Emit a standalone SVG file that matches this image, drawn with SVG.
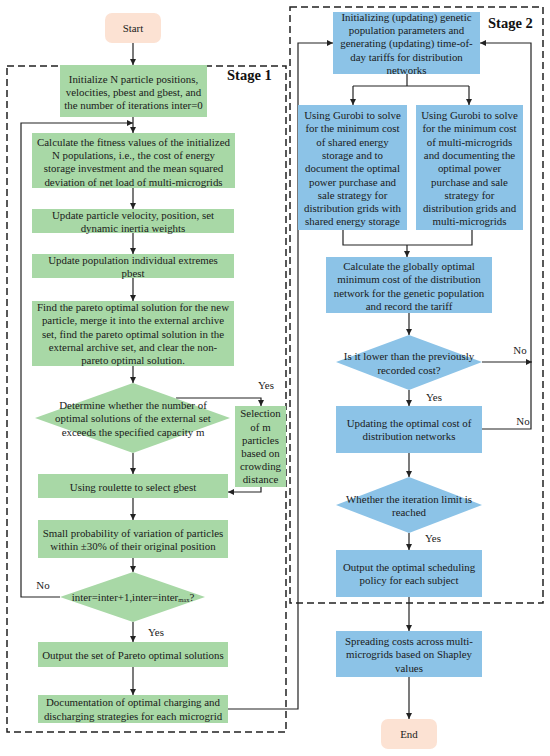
<svg xmlns="http://www.w3.org/2000/svg" width="550" height="756" viewBox="0 0 550 756">
<style>
.t{font-family:"Liberation Serif","Times New Roman",serif;font-size:10.9px;fill:#1a1a1a;text-anchor:middle}
.s{font-family:"Liberation Serif","Times New Roman",serif;font-size:14.5px;font-weight:bold;fill:#111}
.g{fill:#a8d8a6}
.b{fill:#8cc3e7}
.p{fill:#fce2d3}
.stage{fill:none;stroke:#222;stroke-width:1.5;stroke-dasharray:7,4}
.c{fill:none;stroke:#222;stroke-width:1.2}
.a{fill:none;stroke:#222;stroke-width:1.2;marker-end:url(#ah)}
</style>
<defs>
<marker id="ah" markerUnits="userSpaceOnUse" markerWidth="7" markerHeight="7" refX="6" refY="3.5" orient="auto">
<path d="M0,0.5 L6,3.5 L0,6.5 Z" fill="#222"/>
</marker>
</defs>

<g id="stage1-frame">
<rect class="stage" x="7" y="66" width="279" height="666"/>
<text class="s" x="227" y="80">Stage 1</text>
</g>
<g id="stage2-frame">
<rect class="stage" x="290" y="7" width="253" height="596"/>
<text class="s" x="488" y="28">Stage 2</text>
</g>

<g id="connectors">
<path class="a" d="M133,43 V65"/>
<path class="a" d="M133,117 V133"/>
<path class="a" d="M60,597 H21 V123 H133"/>
<path class="a" d="M133,188 V209"/>
<path class="a" d="M133,233 V254"/>
<path class="a" d="M133,278 V301"/>
<path class="a" d="M133,366 V383"/>
<path class="a" d="M176,398 H261 V406"/>
<path class="a" d="M261,487 V492 H228"/>
<path class="a" d="M133,453 V474"/>
<path class="a" d="M133,498 V520"/>
<path class="a" d="M133,558 V572"/>
<path class="a" d="M133,622 V642"/>
<path class="a" d="M133,667 V695"/>
<path class="a" d="M228,709 H298 V43 H333"/>
<path class="c" d="M407,74 V86"/>
<path class="c" d="M353,86 H469"/>
<path class="a" d="M353,86 V105"/>
<path class="a" d="M469,86 V105"/>
<path class="c" d="M343,230 V245 H472 V230"/>
<path class="a" d="M407,245 V257"/>
<path class="a" d="M409,313 V335"/>
<path class="a" d="M482,362 H532"/>
<path class="a" d="M409,390 V406"/>
<path class="a" d="M482,429 H531 V43 H480"/>
<path class="a" d="M409,453 V477"/>
<path class="a" d="M409,533 V550"/>
<path class="a" d="M409,597 V631"/>
<path class="a" d="M409,677 V719"/>
<text class="t" x="266" y="389">Yes</text>
<text class="t" x="43" y="589">No</text>
<text class="t" x="156" y="636">Yes</text>
<text class="t" x="520" y="354">No</text>
<text class="t" x="434" y="401">Yes</text>
<text class="t" x="523" y="425">No</text>
<text class="t" x="433" y="542">Yes</text>
</g>

<g id="start">
<rect class="p" x="105" y="13" width="56" height="30" rx="7"/>
<text class="t" x="133" y="32">Start</text>
</g>
<g id="init">
<rect class="g" x="60" y="65" width="147" height="52"/>
<text class="t" x="133.5" y="82.5">Initialize N particle positions,<tspan x="133.5" y="95.5">velocities, pbest and gbest, and</tspan><tspan x="133.5" y="108.5">the number of iterations inter=0</tspan></text>
</g>
<g id="fitness">
<rect class="g" x="32" y="133" width="203" height="55"/>
<text class="t" x="133.5" y="145.7">Calculate the fitness values of the initialized<tspan x="133.5" y="159">N populations, i.e., the cost of energy</tspan><tspan x="133.5" y="172.3">storage investment and the mean squared</tspan><tspan x="133.5" y="185.6">deviation of net load of multi-microgrids</tspan></text>
</g>
<g id="velocity">
<rect class="g" x="32" y="209" width="202" height="24"/>
<text class="t" x="133" y="219">Update particle velocity, position, set<tspan x="133" y="232">dynamic inertia weights</tspan></text>
</g>
<g id="pbest">
<rect class="g" x="32" y="254" width="202" height="24"/>
<text class="t" x="133" y="264">Update population individual extremes<tspan x="133" y="276.5">pbest</tspan></text>
</g>
<g id="pareto">
<rect class="g" x="32" y="301" width="202" height="65"/>
<text class="t" x="133" y="311">Find the pareto optimal solution for the new<tspan x="133" y="324.3">particle, merge it into the external archive</tspan><tspan x="133" y="337.6">set, find the pareto optimal solution in the</tspan><tspan x="133" y="350.9">external archive set, and clear the non-</tspan><tspan x="133" y="364.2">pareto optimal solution.</tspan></text>
</g>
<g id="capacity">
<polygon class="g" points="133,383 230,418 133,453 35,418"/>
<text class="t" x="133" y="409">Determine whether the number of<tspan x="133" y="422.3">optimal solutions of the external set</tspan><tspan x="133" y="435.6">exceeds the specified capacity m</tspan></text>
</g>
<g id="selection">
<rect class="g" x="235" y="406" width="51" height="81"/>
<text class="t" x="260.5" y="417.3">Selection<tspan x="260.5" y="430.5">of m</tspan><tspan x="260.5" y="443.7">particles</tspan><tspan x="260.5" y="456.9">based on</tspan><tspan x="260.5" y="470.1">crowding</tspan><tspan x="260.5" y="483.3">distance</tspan></text>
</g>
<g id="roulette">
<rect class="g" x="38" y="474" width="190" height="24"/>
<text class="t" x="133" y="491">Using roulette to select gbest</text>
</g>
<g id="mutation">
<rect class="g" x="38" y="520" width="190" height="38"/>
<text class="t" x="133" y="537.3">Small probability of variation of particles<tspan x="133" y="549.7">within ±30% of their original position</tspan></text>
</g>
<g id="iteration">
<polygon class="g" points="133,572 205,597 133,622 60,597"/>
<text class="t" x="133" y="601">inter=inter+1,inter=inter<tspan font-size="6.5px" dy="1">max</tspan><tspan dy="-1">?</tspan></text>
</g>
<g id="output1">
<rect class="g" x="38" y="642" width="190" height="25"/>
<text class="t" x="133" y="659">Output the set of Pareto optimal solutions</text>
</g>
<g id="doc">
<rect class="g" x="38" y="695" width="190" height="28"/>
<text class="t" x="133" y="706.3">Documentation of optimal charging and<tspan x="133" y="719.7">discharging strategies for each microgrid</tspan></text>
</g>

<g id="ga-init">
<rect class="b" x="333" y="12" width="147" height="62"/>
<text class="t" x="406.5" y="20.7">Initializing (updating) genetic<tspan x="406.5" y="34">population parameters and</tspan><tspan x="406.5" y="47.3">generating (updating) time-of-</tspan><tspan x="406.5" y="60.6">day tariffs for distribution</tspan><tspan x="406.5" y="73.9">networks</tspan></text>
</g>
<g id="gurobi-ses">
<rect class="b" x="298" y="105" width="109" height="125"/>
<text class="t" x="352.5" y="119">Using Gurobi to solve<tspan x="352.5" y="132.3">for the minimum cost</tspan><tspan x="352.5" y="145.6">of shared energy</tspan><tspan x="352.5" y="158.9">storage and to</tspan><tspan x="352.5" y="172.2">document the optimal</tspan><tspan x="352.5" y="185.5">power purchase and</tspan><tspan x="352.5" y="198.8">sale strategy for</tspan><tspan x="352.5" y="212.1">distribution grids with</tspan><tspan x="352.5" y="225.4">shared energy storage</tspan></text>
</g>
<g id="gurobi-mmg">
<rect class="b" x="416" y="105" width="107" height="125"/>
<text class="t" x="469.5" y="119">Using Gurobi to solve<tspan x="469.5" y="132.3">for the minimum cost</tspan><tspan x="469.5" y="145.6">of multi-microgrids</tspan><tspan x="469.5" y="158.9">and documenting the</tspan><tspan x="469.5" y="172.2">optimal power</tspan><tspan x="469.5" y="185.5">purchase and sale</tspan><tspan x="469.5" y="198.8">strategy for</tspan><tspan x="469.5" y="212.1">distribution grids and</tspan><tspan x="469.5" y="225.4">multi-microgrids</tspan></text>
</g>
<g id="global">
<rect class="b" x="326" y="257" width="166" height="56"/>
<text class="t" x="409" y="270">Calculate the globally optimal<tspan x="409" y="283.4">minimum cost of the distribution</tspan><tspan x="409" y="296.8">network for the genetic population</tspan><tspan x="409" y="310.2">and record the tariff</tspan></text>
</g>
<g id="lower">
<polygon class="b" points="409,335 482,362 409,390 336,362"/>
<text class="t" x="409" y="359.7">Is it lower than the previously<tspan x="409" y="373.5">recorded cost?</tspan></text>
</g>
<g id="update-cost">
<rect class="b" x="336" y="406" width="146" height="47"/>
<text class="t" x="409" y="427.3">Updating the optimal cost of<tspan x="409" y="440.3">distribution networks</tspan></text>
</g>
<g id="limit">
<polygon class="b" points="409,477 482,505 409,533 336,505"/>
<text class="t" x="409" y="503">Whether the iteration limit is<tspan x="409" y="516.3">reached</tspan></text>
</g>
<g id="output2">
<rect class="b" x="336" y="550" width="146" height="47"/>
<text class="t" x="409" y="570.7">Output the optimal scheduling<tspan x="409" y="584">policy for each subject</tspan></text>
</g>
<g id="shapley">
<rect class="b" x="336" y="631" width="146" height="46"/>
<text class="t" x="409" y="645">Spreading costs across multi-<tspan x="409" y="658.3">microgrids based on Shapley</tspan><tspan x="409" y="671.6">values</tspan></text>
</g>
<g id="end">
<rect class="p" x="381" y="719" width="56" height="30" rx="7"/>
<text class="t" x="409" y="738">End</text>
</g>
</svg>
